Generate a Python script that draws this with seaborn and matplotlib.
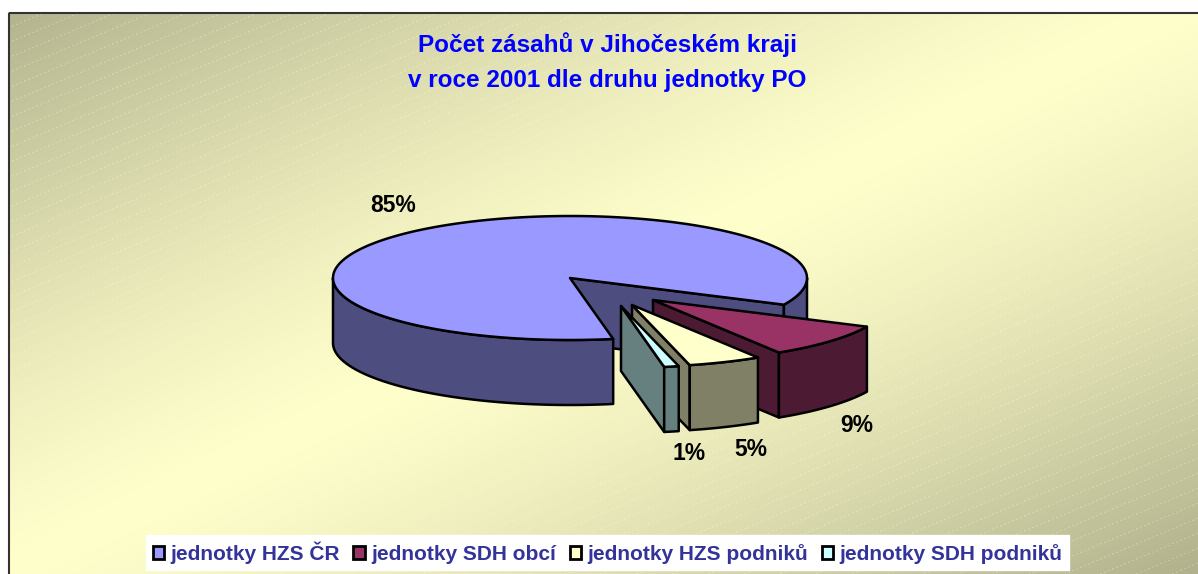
import numpy as np
import seaborn as sns
import matplotlib.pyplot as plt
from matplotlib.patches import Patch, Rectangle

# values
categories = ['jednotky HZS ČR', 'jednotky SDH obcí', 'jednotky HZS podniků', 'jednotky SDH podniků']
shares = [85, 9, 5, 1]
title_lines = ['Počet zásahů v Jihočeském kraji', 'v roce 2001 dle druhu jednotky PO']

# styling
top_colors = sns.color_palette(['#9999FF', '#993366', '#FFFFCC', '#CCFFFF'])
side_colors = sns.color_palette(['#4D4D80', '#4D1A33', '#808066', '#668080'])
offsets = [(0, 0), (83, 22), (62, 27), (51, 28)]
label_pos = [(393, 206), (857, 426), (751, 450), (689, 454)]
W, H = 1198, 574
CX, CY, RX, RY, DEPTH = 570, 278, 237, 62, 65
START = -25.5  # where the maroon slice starts, clockwise from there

sns.set_theme(style='white')
plt.rcParams['font.family'] = ['Liberation Sans', 'DejaVu Sans']

fig = plt.figure(figsize=(W / 100, H / 100), dpi=100, facecolor='white')
ax = fig.add_axes([0, 0, 1, 1])

# gradient background with faint dotted diagonals
yy, xx = np.mgrid[12:H, 8:W]
u = np.abs((xx / W + yy / H) / 2 - 0.5) * 2
u = u ** 1.3
cream = np.array([255, 255, 204]) / 255
olive = np.array([176, 176, 140]) / 255
img = cream + (olive - cream) * u[..., None]
mask = (np.mod(yy + 0.42 * xx, 15) < 1.2) & (np.mod(xx, 4) < 2)
img[mask] = img[mask] * 0.75 + cream * 0.25
ax.imshow(img, extent=(8, W, H, 12), aspect='auto', interpolation='nearest')
ax.add_patch(Rectangle((9, 13), W, H, fill=False, edgecolor='#333333', lw=1.5))


def pt(t, dx, dy, down=0):
    t = np.radians(t)
    return CX + dx + RX * np.cos(t), CY + dy - RY * np.sin(t) + down


def draw_slice(a, b, top, side, dx, dy):
    # a -> b goes clockwise, so b < a
    apex = (CX + dx, CY + dy)
    # cut face at the end of the slice is the one facing the viewer
    ex, ey = pt(b, dx, dy)
    ax.fill([apex[0], ex, ex, apex[0]], [apex[1], ey, ey + DEPTH, apex[1] + DEPTH],
            fc=side, ec='black', lw=1.8, joinstyle='round')
    # outer wall, only where it is at the front of the ellipse
    for lo, hi in [(-180, 0), (-540, -360)]:
        s, e = min(a, hi), max(b, lo)
        if s <= e:
            continue
        t = np.linspace(s, e, 80)
        x1, y1 = pt(t, dx, dy)
        x2, y2 = pt(t[::-1], dx, dy, DEPTH)
        ax.fill(np.r_[x1, x2], np.r_[y1, y2], fc=side, ec='black', lw=1.8, joinstyle='round')
    t = np.linspace(a, b, 200)
    x, y = pt(t, dx, dy)
    ax.fill(np.r_[apex[0], x], np.r_[apex[1], y], fc=top, ec='black', lw=1.8, joinstyle='round')


# slice order clockwise: SDH obci, HZS podniku, SDH podniku, then the big one
angles = {}
cur = START
for i in [1, 2, 3, 0]:
    angles[i] = (cur, cur - shares[i] * 3.6)
    cur -= shares[i] * 3.6

for i in [0, 1, 2, 3]:
    draw_slice(angles[i][0], angles[i][1], top_colors[i], side_colors[i], *offsets[i])

for v, (x, y) in zip(shares, label_pos):
    ax.text(x, y, f'{v}%', fontsize=16.5, fontweight='bold', color='black', ha='center', va='center')

for line, y in zip(title_lines, [45, 80]):
    ax.text(607, y, line, fontsize=17.5, fontweight='bold', color='#0000FF', ha='center', va='center')

handles = [Patch(fc=c, ec='black', lw=2) for c in top_colors]
leg = ax.legend(handles, categories, ncol=4, loc='center', bbox_to_anchor=(607.5 / W, 1 - 552.5 / H),
                bbox_transform=fig.transFigure, frameon=True, fancybox=False, framealpha=1,
                facecolor='white', edgecolor='white', handlelength=0.55, handleheight=0.6,
                handletextpad=0.3, columnspacing=0.65, borderpad=0.3, borderaxespad=0,
                prop={'weight': 'bold', 'size': 15})
for txt in leg.get_texts():
    txt.set_color('#333399')

ax.set_xlim(0, W)
ax.set_ylim(H, 0)
ax.axis('off')
fig.savefig('out.png', dpi=100)
